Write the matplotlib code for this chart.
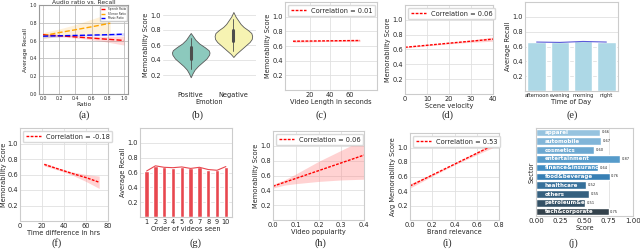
import matplotlib
matplotlib.use("Agg")
import matplotlib.pyplot as plt
import seaborn as sns

sns.set_style("whitegrid")
plt.rcParams['font.family'] = ['DejaVu Sans']
plt.rcParams['axes.edgecolor'] = '.8'
plt.rcParams['xtick.major.pad'] = 1.5
plt.rcParams['ytick.major.pad'] = 1.5

# (a) audio ratio vs recall
ratio_x = [0.0, 0.25, 0.5, 0.75, 1.0]
speech_y = [0.667, 0.651, 0.635, 0.618, 0.602]
speech_lo = [0.650, 0.640, 0.620, 0.590, 0.550]
speech_hi = [0.685, 0.663, 0.650, 0.645, 0.650]
silence_x = [0.0, 0.2, 0.4, 0.6, 0.83]
silence_y = [0.655, 0.690, 0.722, 0.755, 0.795]
silence_lo = [0.620, 0.650, 0.670, 0.670, 0.660]
silence_hi = [0.690, 0.730, 0.780, 0.840, 0.910]
music_y = [0.650, 0.655, 0.660, 0.665, 0.672]
music_lo = [0.630, 0.645, 0.652, 0.655, 0.655]
music_hi = [0.670, 0.665, 0.668, 0.675, 0.690]

# (b) emotion violins (half widths)
emotions = ['Positive', 'Negative']
pos_y = [0.17, 0.22, 0.27, 0.32, 0.37, 0.42, 0.47, 0.50, 0.53, 0.57, 0.62, 0.67, 0.72, 0.76]
pos_w = [0.0, 0.04, 0.09, 0.17, 0.27, 0.37, 0.43, 0.44, 0.42, 0.33, 0.20, 0.11, 0.05, 0.0]
neg_y = [0.44, 0.48, 0.52, 0.56, 0.60, 0.64, 0.68, 0.72, 0.76, 0.80, 0.84, 0.88, 0.93, 0.98, 1.04]
neg_w = [0.0, 0.06, 0.14, 0.22, 0.30, 0.38, 0.43, 0.44, 0.42, 0.34, 0.24, 0.17, 0.11, 0.05, 0.0]
pos_box = [0.28, 0.42, 0.58, 0.70]
neg_box = [0.52, 0.66, 0.80, 0.95]

# (c) video length
len_x = [3, 35, 70]
len_y = [0.665, 0.670, 0.675]
len_lo = [0.650, 0.662, 0.660]
len_hi = [0.680, 0.678, 0.690]

# (d) scene velocity
vel_x = [0, 10, 20, 30, 40]
vel_y = [0.630, 0.657, 0.685, 0.712, 0.740]
vel_lo = [0.622, 0.650, 0.676, 0.697, 0.712]
vel_hi = [0.638, 0.664, 0.694, 0.727, 0.768]

# (e) time of day
tod_labels = ['afternoon', 'evening', 'morning', 'night']
tod_recall = [0.66, 0.655, 0.668, 0.66]

# (f) time difference
td_x = [22, 35, 47, 60, 72]
td_y = [0.73, 0.67, 0.615, 0.56, 0.50]
td_lo = [0.71, 0.655, 0.595, 0.51, 0.42]
td_hi = [0.75, 0.685, 0.635, 0.60, 0.58]

# (g) order of videos seen
order_labels = ['1', '2', '3', '4', '5', '6', '7', '8', '9', '10']
order_recall = [0.62, 0.69, 0.67, 0.665, 0.675, 0.655, 0.67, 0.64, 0.63, 0.68]

# (h) video popularity
pop_x = [0.0, 0.05, 0.1, 0.2, 0.3, 0.4]
pop_y = [0.455, 0.508, 0.56, 0.665, 0.77, 0.875]
pop_lo = [0.43, 0.47, 0.49, 0.52, 0.54, 0.55]
pop_hi = [0.48, 0.54, 0.62, 0.79, 0.94, 1.09]

# (i) brand relevance
br_x = [0.0, 0.2, 0.4, 0.6, 0.8]
br_y = [0.47, 0.62, 0.77, 0.92, 1.07]
br_lo = [0.44, 0.605, 0.76, 0.90, 1.035]
br_hi = [0.50, 0.635, 0.78, 0.94, 1.105]

# (j) sector scores
sectors = ['apparel', 'automobile', 'cosmetics', 'entertainment', 'finance&insurance',
           'food&beverage', 'healthcare', 'others', 'petroleum&energy', 'tech&corporate']
sector_scores = [0.66, 0.67, 0.60, 0.87, 0.64, 0.76, 0.52, 0.55, 0.51, 0.75]

FS = 4.8
fig = plt.figure(figsize=(6.4, 2.52), dpi=100)


def add_ax(l, r, t, b):
    return fig.add_axes([l / 640, 1 - b / 252, (r - l) / 640, (b - t) / 252])


def style(ax, xlabel, ylabel, fs=FS):
    ax.set_xlabel(xlabel, fontsize=fs, labelpad=1)
    ax.set_ylabel(ylabel, fontsize=fs, labelpad=1)
    ax.tick_params(labelsize=fs, length=0)
    ax.grid(True, color='.88', lw=0.6)


def reg(ax, x, y, lo, hi, corr):
    ax.fill_between(x, lo, hi, color='#ff8080', alpha=0.35, lw=0)
    ax.plot(x, y, color='red', ls=(0, (2, 1)), lw=1, label='Correlation = ' + corr)
    ax.legend(loc='upper left', fontsize=4.8, handlelength=2.3, borderpad=0.4,
              handletextpad=0.7, borderaxespad=0.45, framealpha=1, edgecolor='.85')
    ax.set_ylim(0, 1.2)
    ax.set_yticks([0.2, 0.4, 0.6, 0.8, 1.0])


# (a)
ax = add_ax(39, 128, 5, 94)
for xs, ys, lo, hi, c, lab in [
        (ratio_x, speech_y, speech_lo, speech_hi, 'red', 'Speech Ratio'),
        (silence_x, silence_y, silence_lo, silence_hi, 'orange', 'Silence Ratio'),
        (ratio_x, music_y, music_lo, music_hi, 'blue', 'Music Ratio')]:
    ax.fill_between(xs, lo, hi, color=c, alpha=0.15, lw=0)
    ax.plot(xs, ys, color=c, ls='--', lw=1, label=lab)
ax.set_xlim(-0.05, 1.05)
ax.set_ylim(0, 1.0)
ax.set_xticks([0, 0.2, 0.4, 0.6, 0.8, 1.0])
style(ax, 'Ratio', 'Average Recall', fs=4.2)
ax.tick_params(labelsize=3.4)
ax.grid(True, color='.75', lw=0.6)
for s in ax.spines.values():
    s.set_color('.6')
ax.set_title('Audio ratio vs. Recall', fontsize=4.3, pad=1)
ax.legend(loc='upper right', fontsize=2.0, handlelength=1.6, framealpha=1,
          borderpad=0.3, labelspacing=0.2)

# (b)
ax = add_ax(163, 256, 0, 90)
for i, (ys, ws, bx, col) in enumerate([(pos_y, pos_w, pos_box, '#8cc9bd'),
                                       (neg_y, neg_w, neg_box, '#f6f3b2')]):
    ax.fill_betweenx(ys, [i - w for w in ws], [i + w for w in ws],
                     facecolor=col, edgecolor='.35', lw=0.6)
    ax.plot([i, i], [bx[0], bx[3]], color='.3', lw=0.6)
    ax.plot([i, i], [bx[1], bx[2]], color='.3', lw=2.2)
ax.set_xticks([0, 1])
ax.set_xticklabels(emotions)
ax.set_xlim(-0.65, 1.53)
ax.set_ylim(0, 1.2)
ax.set_yticks([0.2, 0.4, 0.6, 0.8, 1.0])
style(ax, 'Emotion', 'Memorability Score')
ax.grid(False, axis='x')
for s in ax.spines.values():
    s.set_visible(False)

# (c)
ax = add_ax(285, 377, 2, 90)
reg(ax, len_x, len_y, len_lo, len_hi, '0.01')
ax.set_xlim(-5, 87)
ax.set_xticks([20, 40, 60])
style(ax, 'Video Length in seconds', 'Memorability Score')

# (d)
ax = add_ax(405, 493, 5, 94)
reg(ax, vel_x, vel_y, vel_lo, vel_hi, '0.06')
ax.set_xlim(0, 40)
ax.set_xticks([0, 10, 20, 30, 40])
style(ax, 'Scene velocity', 'Memorability Score')

# (e)
ax = add_ax(525, 618, 2, 91)
ax.bar(range(len(tod_labels)), tod_recall, width=0.8, color='#add8e6')
ax.plot(range(len(tod_labels)), tod_recall, color='#5a5ad8', lw=0.8)
ax.set_xticks(range(len(tod_labels)))
ax.set_xticklabels(tod_labels)
ax.set_xlim(-0.5, 3.5)
ax.set_ylim(0, 1.2)
ax.set_yticks([0.2, 0.4, 0.6, 0.8, 1.0])
style(ax, 'Time of Day', 'Average Recall')
ax.tick_params(axis='x', labelsize=3.7)
ax.grid(False, axis='x')

# (f)
ax = add_ax(20, 108, 128, 221)
reg(ax, td_x, td_y, td_lo, td_hi, '-0.18')
ax.set_xlim(0, 80)
ax.set_xticks([0, 20, 40, 60, 80])
style(ax, 'Time difference in hrs', 'Memorability Score')
ax.yaxis.labelpad = 0.5

# (g)
ax = add_ax(140, 232, 128, 217)
ax.bar(range(len(order_labels)), order_recall, width=0.5, color='#e8474f')
ax.plot(range(len(order_labels)), order_recall, color='#e8474f', lw=0.8)
ax.set_xticks(range(len(order_labels)))
ax.set_xticklabels(order_labels)
ax.set_xlim(-0.75, 9.7)
ax.set_ylim(0, 1.2)
ax.set_yticks([0.2, 0.4, 0.6, 0.8, 1.0])
style(ax, 'Order of videos seen', 'Average Recall')
ax.grid(False, axis='x')

# (h)
ax = add_ax(273, 364, 131, 220)
reg(ax, pop_x, pop_y, pop_lo, pop_hi, '0.06')
ax.set_xlim(0, 0.4)
ax.set_xticks([0, 0.1, 0.2, 0.3, 0.4])
style(ax, 'Video popularity', 'Memorability Score')

# (i)
ax = add_ax(410, 499, 133, 220)
reg(ax, br_x, br_y, br_lo, br_hi, '0.53')
ax.set_xlim(0, 0.8)
ax.set_xticks([0, 0.2, 0.4, 0.6, 0.8])
style(ax, 'Brand relevance', 'Avg Memorability Score')

# (j)
ax = add_ax(536, 633, 128, 216)
colors = sns.color_palette('Blues_d', len(sectors))
ax.barh(range(len(sectors)), sector_scores, height=0.85, color=colors)
for i, name in enumerate(sectors):
    ax.text(0.09, i, name, color='white', fontsize=4.0, fontweight='bold', va='center')
# value labels drawn on top of the white names
for i, v in enumerate(sector_scores):
    ax.text(v + 0.015, i, f'{v:.2f}', fontsize=2.6, va='center', zorder=5)
ax.set_ylim(len(sectors) - 0.5, -0.5)
ax.set_xlim(0, 1.0)
ax.set_xticks([0, 0.25, 0.5, 0.75, 1.0])
ax.set_xticklabels(['0.00', '0.25', '0.50', '0.75', '1.00'])
ax.set_yticks([])
style(ax, 'Score', 'Sector')
ax.tick_params(labelsize=5)

# panel captions
for lab, x, y in [('(a)', 84, 115), ('(b)', 197, 115), ('(c)', 321, 115), ('(d)', 447, 115),
                  ('(e)', 572, 115), ('(f)', 57, 243), ('(g)', 196, 243), ('(h)', 320, 243),
                  ('(i)', 447, 243), ('(j)', 573, 243)]:
    fig.text(x / 640, 1 - y / 252, lab, ha='center', va='center', fontsize=7.5,
             family='Liberation Serif')

fig.savefig('out.png', dpi=100)
